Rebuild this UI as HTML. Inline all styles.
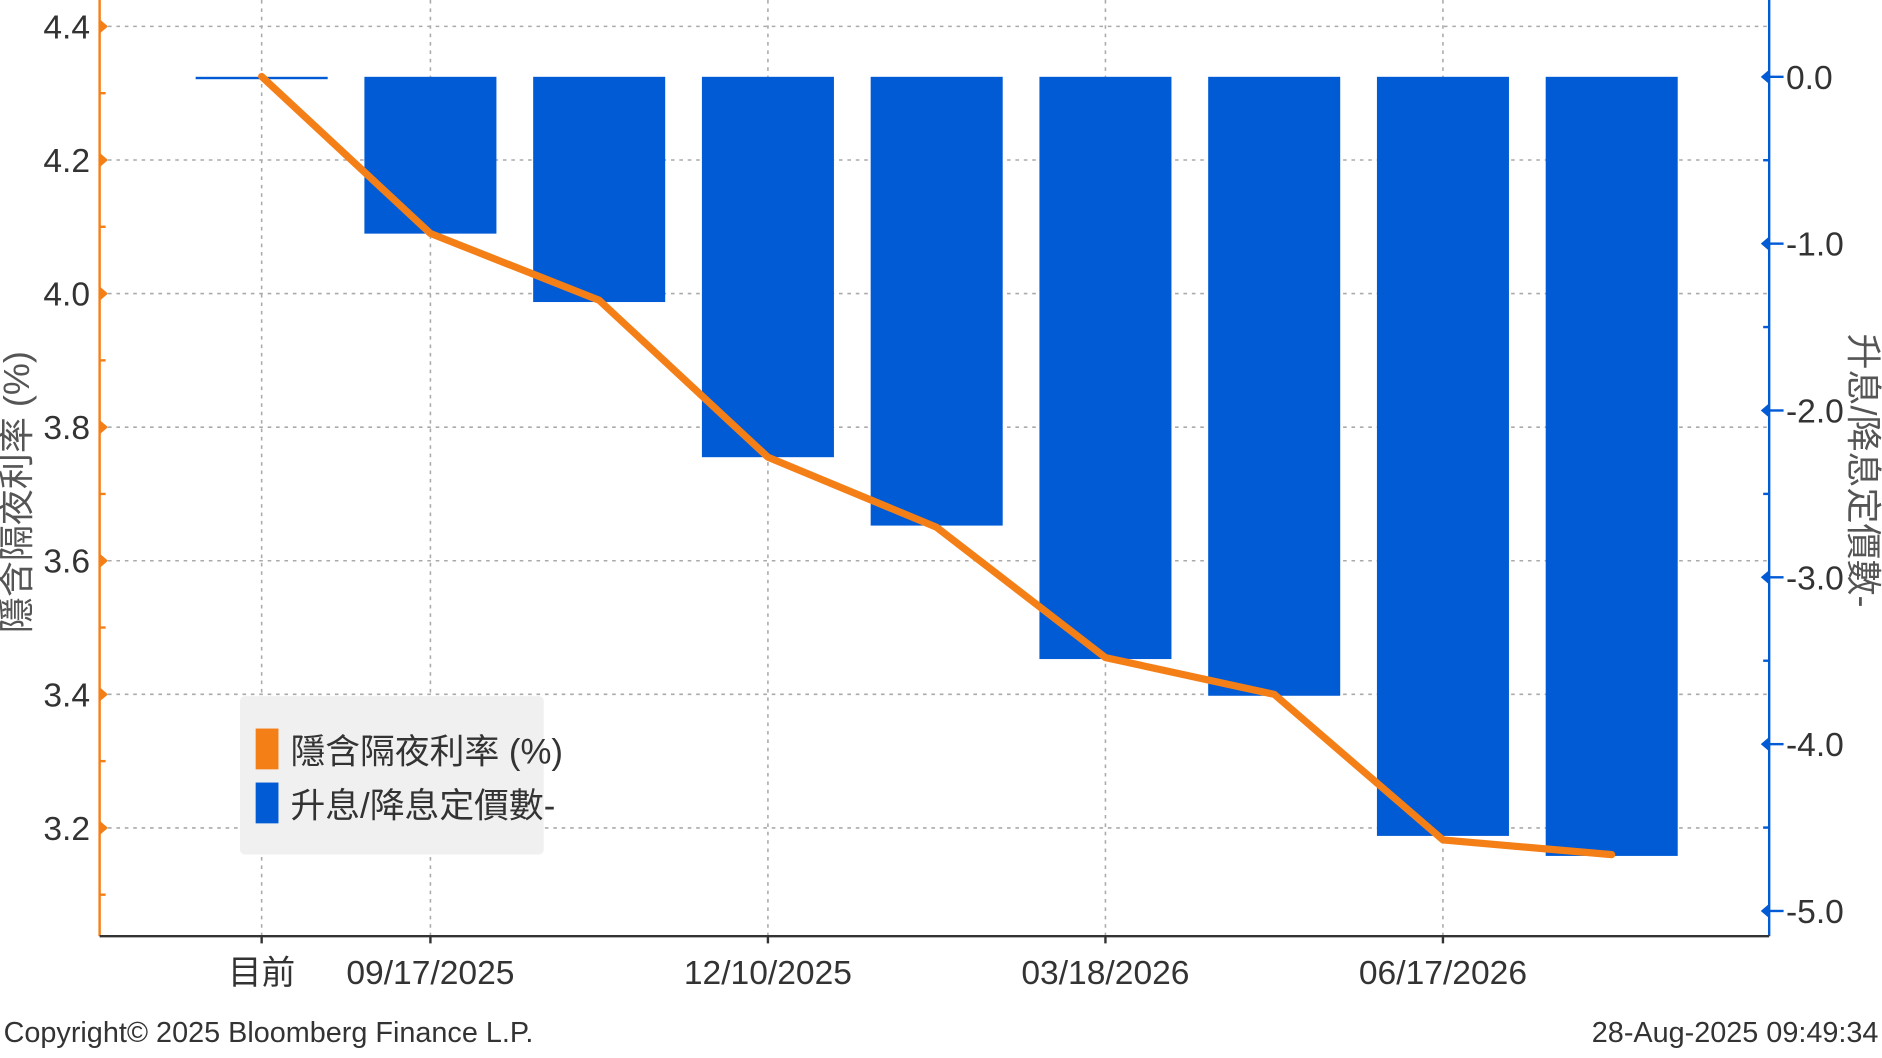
<!DOCTYPE html>
<html><head><meta charset="utf-8">
<style>
html,body{margin:0;padding:0;background:#fff;}
svg{display:block;}
text{font-family:"Liberation Sans","Noto Sans CJK TC",sans-serif;}
</style></head>
<body>
<svg id="chart" width="1882" height="1058" viewBox="0 0 1568 881.5" preserveAspectRatio="none" xmlns="http://www.w3.org/2000/svg">
<g id="grid"></g>
<g id="bars"></g>
<g id="line"></g>
<g id="axes"></g>
<text transform="translate(24,410) rotate(-90)" text-anchor="middle" font-size="30" fill="#555">隱含隔夜利率 (%)</text>
<text transform="translate(1542,392) rotate(90)" text-anchor="middle" font-size="30" fill="#555">升息/降息定價數-</text>
<g>
<rect x="200" y="580" width="253" height="132" rx="4" fill="#f0f0f0"/>
<rect x="213" y="607" width="19" height="34" fill="#f57f17"/>
<text x="242" y="636" font-size="29" fill="#333">隱含隔夜利率 (%)</text>
<rect x="213" y="652" width="19" height="34" fill="#005bd5"/>
<text x="242" y="681" font-size="29" fill="#333">升息/降息定價數-</text>
</g>
<text x="3" y="868" font-size="24" fill="#333" font-family="Liberation Mono">Copyright© 2025 Bloomberg Finance L.P.</text>
<text x="1565" y="868" text-anchor="end" font-size="24" fill="#333" font-family="Liberation Mono">28-Aug-2025 09:49:34</text>
</svg>
<script>
const categories=["目前","","","","","","","",""];
const xLabels=["目前","09/17/2025","","12/10/2025","","03/18/2026","","06/17/2026",""];
const pricingValues=[0,-0.94,-1.35,-2.28,-2.69,-3.49,-3.71,-4.55,-4.67];
const rateValues=[4.325,4.09,3.99,3.755,3.65,3.455,3.40,3.182,3.16];
const leftTicks=[4.4,4.2,4.0,3.8,3.6,3.4,3.2];
const rightTicks=[0,-1,-2,-3,-4,-5];
const NS="http://www.w3.org/2000/svg";
const L=83,R=1474,B=780,T=0;
const xStep=140.6,x0=218;
function xPos(i){return x0+i*xStep;}
function yL(v){return 22+(4.4-v)*556.5;}
function yR(v){return 64-v*139;}
function mk(tag,attrs,parent){const e=document.createElementNS(NS,tag);for(const k in attrs)e.setAttribute(k,attrs[k]);parent.appendChild(e);return e;}
const grid=document.getElementById('grid'),bars=document.getElementById('bars'),line=document.getElementById('line'),axes=document.getElementById('axes');
leftTicks.forEach(v=>{const g=mk('line',{x1:L,x2:R,y1:yL(v),y2:yL(v),stroke:'#aaa','stroke-dasharray':'3,4','stroke-width':1.3},grid);

});
xLabels.forEach((lab,i)=>{if(!lab)return;const g=mk('line',{x1:xPos(i),x2:xPos(i),y1:0,y2:B,stroke:'#aaa','stroke-dasharray':'3,4','stroke-width':1.3},grid);

});
pricingValues.forEach((v,i)=>{const y0=yR(0),y1=yR(v);const b=mk('rect',{x:xPos(i)-55,y:Math.min(y0,y1),width:110,height:Math.max(2,Math.abs(y1-y0)),fill:'#005bd5'},bars);

});
const pts=rateValues.map((v,i)=>xPos(i)+','+yL(v)).join(' ');
const pl=mk('polyline',{points:pts,fill:'none',stroke:'#f57f17','stroke-width':6,'stroke-linejoin':'round','stroke-linecap':'round'},line);


// axes
const la=mk('line',{x1:L,x2:L,y1:0,y2:B,stroke:'#f57f17','stroke-width':2},axes);


const ra=mk('line',{x1:R,x2:R,y1:0,y2:B,stroke:'#005bd5','stroke-width':2},axes);


const ba=mk('line',{x1:L,x2:R,y1:B,y2:B,stroke:'#333','stroke-width':2},axes);


leftTicks.forEach(v=>{const y=yL(v);mk('path',{d:`M${L} ${y-6}L${L+7} ${y}L${L} ${y+6}Z`,fill:'#f57f17'},axes);
const t=mk('text',{x:L-8,y:y+10,'text-anchor':'end','font-size':28,fill:'#333'},axes);t.textContent=v.toFixed(1);

});
for(let v=4.3;v>3.05;v-=0.2){mk('line',{x1:L,x2:L+5,y1:yL(v),y2:yL(v),stroke:'#f57f17','stroke-width':2},axes);}
rightTicks.forEach(v=>{const y=yR(v);mk('path',{d:`M${R} ${y-6}L${R-7} ${y}L${R} ${y+6}Z`,fill:'#005bd5'},axes);
mk('line',{x1:R,x2:R+12,y1:y,y2:y,stroke:'#005bd5','stroke-width':2},axes);
const t=mk('text',{x:R+14,y:y+10,'font-size':28,fill:'#333'},axes);t.textContent=(v===0?'0.0':v.toFixed(1));

});
for(let v=-0.5;v>-5;v-=1){mk('line',{x1:R,x2:R-5,y1:yR(v),y2:yR(v),stroke:'#005bd5','stroke-width':2},axes);}
xLabels.forEach((lab,i)=>{if(!lab)return;mk('line',{x1:xPos(i),x2:xPos(i),y1:B,y2:B+6,stroke:'#333','stroke-width':2},axes);
const t=mk('text',{x:xPos(i),y:820,'text-anchor':'middle','font-size':28,fill:'#333'},axes);t.textContent=lab;

});
</script>
</body></html>
